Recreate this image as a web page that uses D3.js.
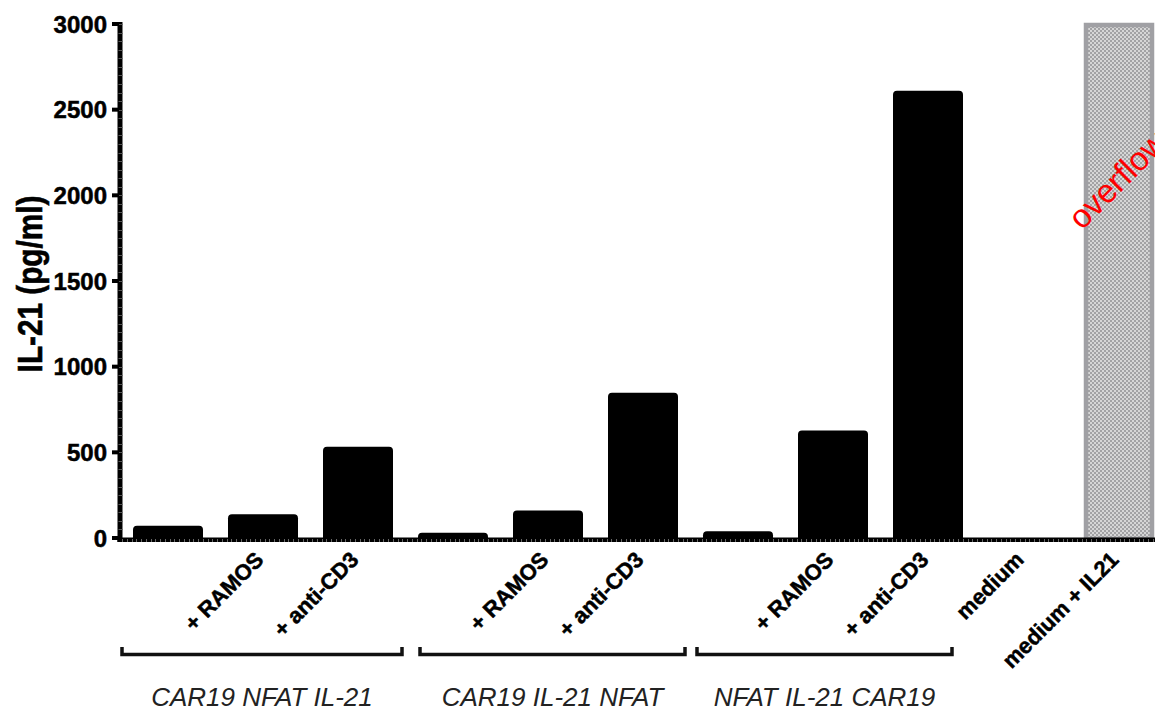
<!DOCTYPE html>
<html><head><meta charset="utf-8">
<script src="https://cdn.jsdelivr.net/npm/d3@7"></script>
<style>
html,body{margin:0;padding:0;background:#fff;}
svg{display:block;font-family:"Liberation Sans",Arial,Helvetica,sans-serif;}
</style></head>
<body>
<svg id="chart" width="1155" height="711"></svg>
<script>
// ---- data ----
const categoryIds = ["a1","a2","a3","b1","b2","b3","c1","c2","c3","m1","m2"];
const categoryLabels = ["", "+ RAMOS", "+ anti-CD3", "", "+ RAMOS", "+ anti-CD3", "", "+ RAMOS", "+ anti-CD3", "medium", "medium + IL21"];
const il21Values = [72, 138, 533, 30, 160, 848, 40, 628, 2611, 0, 3000];
const isOverflow = [false,false,false,false,false,false,false,false,false,false,true];
const groupNames = ["CAR19 NFAT IL-21", "CAR19 IL-21 NFAT", "NFAT IL-21 CAR19"];
const groupFirst = ["a1","b1","c1"];
const groupLast = ["a3","b3","c3"];
const yTickValues = [0, 500, 1000, 1500, 2000, 2500, 3000];
const yTitle = "IL-21 (pg/ml)";
const overflowText = "overflow";

// ---- layout ----
const svg = d3.select("#chart");
const yZero = 538, yTop = 24;
const y = d3.scaleLinear().domain([0, 3000]).range([yZero, yTop]);
const x = d3.scaleBand().domain(categoryIds).range([120.5, 1165.5])
  .paddingInner(25/95).paddingOuter(12.5/95);
const bw = x.bandwidth();
// bracket pixel offsets relative to first/last bar edges (layout only)
const bracketPadL = [-11, 2, -6];
const bracketPadR = [9, 7, -11];

const defs = svg.append("defs");
const pat = defs.append("pattern").attr("id","checker").attr("patternUnits","userSpaceOnUse")
  .attr("width",4).attr("height",4);
pat.append("rect").attr("width",4).attr("height",4).attr("fill","#a2a2a4");
pat.append("rect").attr("x",0).attr("y",0).attr("width",2).attr("height",2).attr("fill","#d6d6d6");
pat.append("rect").attr("x",2).attr("y",2).attr("width",2).attr("height",2).attr("fill","#d6d6d6");

// bars
function barPath(x0, w, yv, y0, r) {
  const h = y0 - yv;
  r = Math.min(r, h, w/2);
  return `M${x0},${y0}V${yv+r}Q${x0},${yv} ${x0+r},${yv}H${x0+w-r}Q${x0+w},${yv} ${x0+w},${yv+r}V${y0}Z`;
}
const data = categoryIds.map((id,i)=>({id, label:categoryLabels[i], v:il21Values[i], over:isOverflow[i]}));

svg.append("g").selectAll("path").data(data.filter(d=>!d.over && d.v>0)).join("path")
  .attr("d", d => barPath(x(d.id), bw, y(d.v), yZero+1, 4))
  .attr("fill","#000");

const ov = data.filter(d=>d.over);
svg.append("g").selectAll("rect").data(ov).join("rect")
  .attr("x", d => x(d.id)+3).attr("y", d => y(d.v)+1)
  .attr("width", bw-4).attr("height", d => yZero - y(d.v))
  .attr("fill","url(#checker)").attr("stroke","#a0a0a4").attr("stroke-width",4.5);

// overflow text
svg.append("g").selectAll("text").data(ov).join("text")
  .attr("transform", d => `translate(${x(d.id)-1},${231}) rotate(-45)`)
  .attr("font-size", 33).attr("fill","#ff0000").text(overflowText);

// y axis
const yAxisG = svg.append("g");
yAxisG.append("rect").attr("x",117.5).attr("y",yTop-2).attr("width",5).attr("height",yZero-yTop+6).attr("fill","#000");
const minor = d3.range(0, 3001, 50);
yAxisG.selectAll("line.minor").data(minor).join("line").attr("class","minor")
  .attr("x1",118.5).attr("x2",122.5).attr("y1",d=>Math.round(y(d))+0.5).attr("y2",d=>Math.round(y(d))+0.5)
  .attr("stroke","#555").attr("stroke-width",1);
yAxisG.selectAll("rect.major").data(yTickValues).join("rect").attr("class","major")
  .attr("x",112).attr("width",7).attr("y",d=>y(d)-2).attr("height",4).attr("fill","#000");
yAxisG.selectAll("text").data(yTickValues).join("text")
  .attr("x",107).attr("y",d=>y(d)).attr("dy","0.36em").attr("text-anchor","end")
  .attr("font-size",24).attr("font-weight","bold").attr("fill","#000")
  .attr("stroke","#000").attr("stroke-width",0.5).text(d=>d);

// x axis
const xAxisG = svg.append("g");
xAxisG.append("rect").attr("x",117.5).attr("y",yZero-0.5).attr("width",1155-117.5).attr("height",4.5).attr("fill","#000");
xAxisG.selectAll("line").data(d3.range(122, 1155, 4.75)).join("line")
  .attr("x1",d=>Math.round(d)+0.5).attr("x2",d=>Math.round(d)+0.5).attr("y1",yZero+1).attr("y2",yZero+4)
  .attr("stroke","#666").attr("stroke-width",1);

// category labels
xAxisG.selectAll("text").data(data.filter(d=>d.label)).join("text")
  .attr("transform", d => `translate(${x(d.id)+bw/2+2},${561}) rotate(-45)`)
  .attr("text-anchor","end").attr("font-size",22).attr("font-weight","bold").attr("fill","#000")
  .attr("stroke","#000").attr("stroke-width",0.5)
  .text(d=>d.label);

// y title
svg.append("text").attr("transform","translate(42,284) rotate(-90) scale(0.85,1)")
  .attr("text-anchor","middle").attr("font-size",35).attr("font-weight","bold").attr("fill","#000")
  .attr("stroke","#000").attr("stroke-width",0.6)
  .text(yTitle);

// group brackets
const gdata = groupNames.map((n,i)=>{
  const x1 = x(groupFirst[i]) + bracketPadL[i];
  const x2 = x(groupLast[i]) + bw + bracketPadR[i];
  return {n, x1, x2};
});
const bg = svg.append("g");
bg.selectAll("path").data(gdata).join("path")
  .attr("d", d => `M${d.x1},647V654.5H${d.x2}V647`)
  .attr("fill","none").attr("stroke","#111").attr("stroke-width",3.5);
bg.selectAll("text").data(gdata).join("text")
  .attr("x", d => (d.x1+d.x2)/2).attr("y",706).attr("text-anchor","middle")
  .attr("font-size",26).attr("font-style","italic").attr("fill","#222").text(d=>d.n);
</script>
</body></html>
